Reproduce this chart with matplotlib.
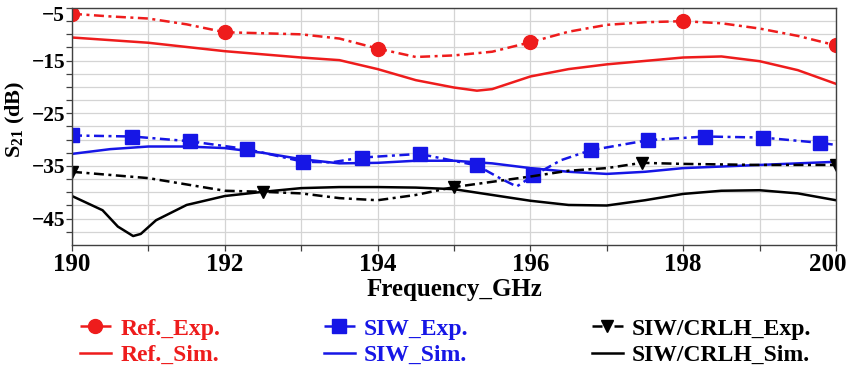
import matplotlib
matplotlib.use("Agg")
import matplotlib.pyplot as plt
from matplotlib.lines import Line2D
from matplotlib.transforms import ScaledTranslation
import numpy as np

plt.rcParams['font.family'] = ['Liberation Serif', 'DejaVu Serif']
plt.rcParams['mathtext.fontset'] = 'custom'
plt.rcParams['mathtext.rm'] = 'Liberation Serif:bold'
plt.rcParams['mathtext.bf'] = 'Liberation Serif:bold'

# Ref. (measured)
ref_exp_f = [190, 190.5, 191, 191.5, 192, 192.5, 193, 193.5, 194, 194.5, 195,
             195.5, 196, 196.5, 197, 197.5, 198, 198.5, 199, 199.5, 200]
ref_exp_db = [-6.1, -6.6, -7.0, -8.1, -9.6, -9.8, -10.0, -10.8, -12.7, -14.3, -14.0,
              -13.3, -11.5, -9.5, -8.2, -7.7, -7.5, -7.9, -8.9, -10.3, -12.1]
ref_exp_marks = [0, 4, 8, 12, 16, 20]

ref_sim_f = [190, 191, 192, 193, 193.5, 194, 194.5, 195, 195.3, 195.5, 196,
             196.5, 197, 198, 198.5, 199, 199.5, 200]
ref_sim_db = [-10.6, -11.6, -13.2, -14.4, -14.9, -16.6, -18.7, -20.1, -20.7, -20.4, -18.0,
              -16.6, -15.7, -14.4, -14.2, -15.1, -16.8, -19.4]

# SIW
siw_exp_f = [190, 190.79, 191.54, 192.29, 193.03, 193.4, 193.79, 194.55, 195.3, 195.6,
             195.82, 196.04, 196.4, 196.79, 197.54, 198.29, 199.04, 199.79, 200]
siw_exp_db = [-29.2, -29.4, -30.3, -31.8, -34.2, -34.3, -33.4, -32.7, -34.9, -37.3,
              -38.9, -36.8, -33.9, -32.0, -30.1, -29.4, -29.6, -30.6, -31.0]
siw_exp_marks = [0, 1, 2, 3, 4, 6, 7, 8, 11, 13, 14, 15, 16, 17]

siw_sim_f = [190, 190.5, 191, 191.5, 192, 192.5, 193, 193.5, 194, 194.5, 195,
             195.5, 196, 196.5, 197, 197.5, 198, 198.5, 199, 199.5, 200]
siw_sim_db = [-32.7, -31.8, -31.3, -31.3, -31.6, -32.5, -33.7, -34.5, -34.4, -34.0, -34.0,
              -34.5, -35.4, -36.1, -36.5, -36.1, -35.4, -35.1, -34.8, -34.5, -34.2]

# SIW/CRLH
crlh_exp_f = [190, 191, 192, 192.5, 193, 193.5, 194, 194.5, 195, 195.5, 196,
              196.5, 197, 197.46, 198, 199, 200]
crlh_exp_db = [-36.1, -37.3, -39.7, -39.9, -40.2, -41.1, -41.5, -40.5, -39.0, -38.0, -37.0,
               -35.9, -35.4, -34.4, -34.6, -34.8, -34.8]
crlh_exp_marks = [0, 3, 8, 13, 16]

crlh_sim_f = [190, 190.4, 190.6, 190.8, 190.9, 191.1, 191.5, 192, 192.5, 193, 193.5,
              194, 194.5, 195, 195.5, 196, 196.5, 197, 197.5, 198, 198.5, 199, 199.5, 200]
crlh_sim_db = [-40.7, -43.4, -46.5, -48.3, -47.9, -45.3, -42.4, -40.7, -39.9, -39.2, -39.0,
               -39.0, -39.1, -39.4, -40.5, -41.6, -42.4, -42.5, -41.5, -40.3, -39.7, -39.6, -40.2, -41.5]

RED = '#ee1c1c'
BLUE = '#1616e6'
BLACK = '#000000'
dd = (4, 1.8, 1.2, 1.8)

fig = plt.figure(figsize=(8.5, 3.71), dpi=100)
ax = fig.add_axes([72/850, 1-245/371, (836-72)/850, (245-8)/371])

ax.plot(ref_sim_f, ref_sim_db, color=RED, lw=1.8, label='Ref._Sim.')
ax.plot(siw_sim_f, siw_sim_db, color=BLUE, lw=1.8, label='SIW_Sim.')
ax.plot(crlh_sim_f, crlh_sim_db, color=BLACK, lw=1.8, label='SIW/CRLH_Sim.')
l1, = ax.plot(ref_exp_f, ref_exp_db, color=RED, lw=1.8, dashes=dd, marker='o', ms=10,
              markevery=ref_exp_marks, label='Ref._Exp.')
l2, = ax.plot(siw_exp_f, siw_exp_db, color=BLUE, lw=1.8, dashes=dd, marker='s', ms=10,
              markevery=siw_exp_marks, label='SIW_Exp.')
l3, = ax.plot(crlh_exp_f, crlh_exp_db, color=BLACK, lw=1.8, dashes=dd, marker='v', ms=9,
              markevery=crlh_exp_marks, label='SIW/CRLH_Exp.')

ax.set_xlim(190, 200)
ax.set_ylim(-50, -5)
ax.set_xticks(np.arange(190, 201, 2))
ax.set_xticks(np.arange(191, 200, 2), minor=True)
ax.set_yticks([-5, -15, -25, -35, -45])
ax.set_yticks(np.arange(-47.5, -5, 2.5), minor=True)
ax.grid(True, which='both', color='#d4d4d4', lw=0.9)
ax.set_axisbelow(True)
for s in ax.spines.values():
    s.set_color('#404040')
    s.set_linewidth(1.0)
ax.tick_params(which='both', direction='out', color='#404040', length=4, width=0.9)
ax.tick_params(axis='x', pad=2)
ax.tick_params(axis='y', pad=1)
for t in ax.get_xticklabels():
    t.set_fontsize(18)
    t.set_fontweight('bold')
for t in ax.get_yticklabels():
    t.set_fontsize(15.5)
    t.set_fontweight('bold')

# first y label and last x label sit a little inside, as in the source
ylab = ax.get_yticklabels()[0]
ylab.set_transform(ylab.get_transform() + ScaledTranslation(0, -0.06, fig.dpi_scale_trans))
xlab = ax.get_xticklabels()[-1]
xlab.set_transform(xlab.get_transform() + ScaledTranslation(-0.08, 0, fig.dpi_scale_trans))

ax.set_xlabel('Frequency_GHz', fontsize=18, fontweight='bold', labelpad=1)
ax.set_ylabel(r'$\mathbf{S_{21}}$ (dB)', fontsize=16, fontweight='bold')
ax.yaxis.set_label_coords((27-72)/764, (245-119)/237)

def pair_legend(h_exp, color, sim_label, x):
    sim = Line2D([], [], color=color, lw=1.8)
    leg = fig.legend([h_exp, sim], [h_exp.get_label(), sim_label],
                     loc='upper left', bbox_to_anchor=(x, 1-318/371),
                     frameon=False, prop={'weight': 'bold', 'size': 17},
                     handlelength=1.3, handletextpad=0.4, labelspacing=0.2,
                     borderpad=0, borderaxespad=0)
    for t in leg.get_texts():
        t.set_color(color)

pair_legend(l1, RED, 'Ref._Sim.', 80/850)
pair_legend(l2, BLUE, 'SIW_Sim.', 324/850)
pair_legend(l3, BLACK, 'SIW/CRLH_Sim.', 592/850)

fig.savefig('out.png', dpi=100)
